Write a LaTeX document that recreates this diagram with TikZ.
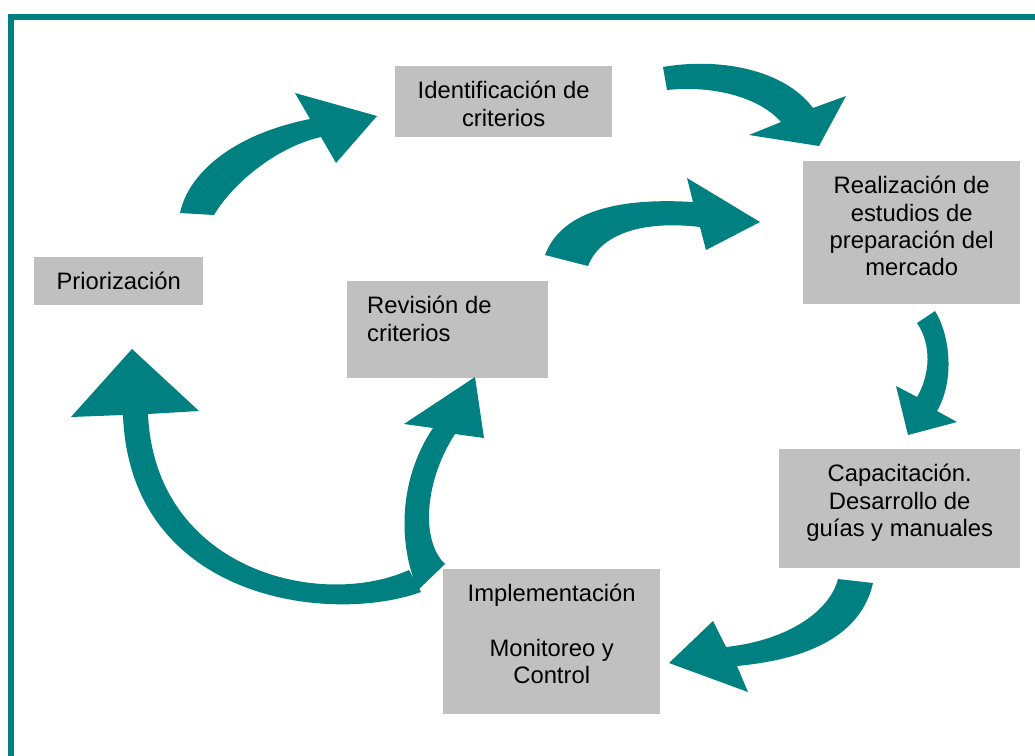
\documentclass[tikz,border=0pt]{standalone}
\usepackage{fontspec}
\setmainfont{Liberation Sans}
\definecolor{tealarrow}{HTML}{008080}
\definecolor{boxgray}{HTML}{C0C0C0}
\newcommand\stagetext[3]{\parbox[t][#2pt][t]{#1pt}{\centering\rule{0pt}{32.5pt}#3}}
\begin{document}
\begin{tikzpicture}[x=1pt,y=-1pt,
  stage/.style={fill=boxgray, draw=none, inner sep=0pt, anchor=north west,
    font=\fontsize{23.8}{27.4}\selectfont},
  band/.style={fill=tealarrow, draw=none},
  frameline/.style={draw=tealarrow, line width=5.5pt}]
\useasboundingbox (0,0) rectangle (1035,755);
\fill[white] (0,0) rectangle (1035,755);
\draw[frameline] (10.8,760) -- (10.8,17) -- (1040,17);

% stages
\node[stage] (ident) at (395,66) {\stagetext{217}{71}{Identificación de\\criterios}};
\node[stage] (prior) at (34,257) {\stagetext{169}{48}{Priorización}};
\node[stage] (revis) at (347,281) {\parbox[t][97pt][t]{201pt}{\raggedright\leftskip=20pt\rule{0pt}{32.5pt}Revisión de\\criterios}};
\node[stage] (realiz) at (803,161) {\stagetext{217}{143}{Realización de\\estudios de\\preparación del\\mercado}};
\node[stage] (capac) at (779,449) {\stagetext{241}{119}{Capacitación.\\Desarrollo de\\guías y manuales}};
\node[stage] (implem) at (443,569) {\stagetext{217}{145}{Implementación\\[27.4pt]Monitoreo y\\Control}};

% curved block arrows
% Priorizacion -> Identificacion
\fill[band] (180,213) .. controls (188,175) and (230,135) .. (310,119) -- (295,93) -- (377,116) -- (336,163) -- (321,137) .. controls (280,146) and (235,180) .. (214,215) -- cycle;
% Identificacion -> Realizacion
\fill[band] (663,67) .. controls (720,57) and (785,70) .. (813,108) -- (846,96) -- (819,146) -- (749,135) -- (781,122) .. controls (760,98) and (715,85) .. (667,90) -- cycle;
% Revision -> Realizacion
\fill[band] (545,255) .. controls (560,215) and (610,197) .. (693,202) -- (687,178) -- (760,222) -- (706,250) -- (700,227) .. controls (640,220) and (600,235) .. (588,266) -- cycle;
% Realizacion -> Capacitacion
\fill[band] (935,311) .. controls (950,335) and (955,380) .. (937,411) -- (957,422) -- (908,435) -- (896,386) -- (917,397) .. controls (930,375) and (932,345) .. (917,323) -- cycle;
% Capacitacion -> Implementacion
\fill[band] (873,583) .. controls (860,640) and (800,660) .. (737,666) -- (748,692) -- (669,663) -- (713,621) -- (726,647) .. controls (790,640) and (830,610) .. (838,579) -- cycle;
% Implementacion -> Priorizacion
\fill[band] (421,592) .. controls (330,625) and (130,600) .. (123,415) -- (71,417) -- (132,349) -- (199,411) -- (148,414) .. controls (155,570) and (320,610) .. (409,570) -- cycle;
% Implementacion -> Revision
\fill[band] (418,590) .. controls (398,545) and (398,480) .. (433,428) -- (404,424) -- (475,377) -- (484,438) -- (455,434) .. controls (425,480) and (420,540) .. (445,564) -- cycle;
\end{tikzpicture}
\end{document}
